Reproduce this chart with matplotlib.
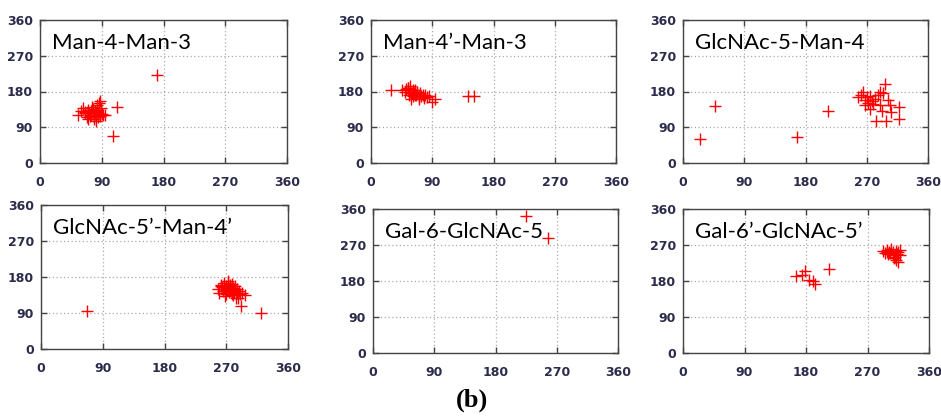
import matplotlib
matplotlib.use("Agg")
import matplotlib.pyplot as plt

titles = ["Man-4-Man-3", "Man-4\u2019-Man-3", "GlcNAc-5-Man-4",
          "GlcNAc-5\u2019-Man-4\u2019", "Gal-6-GlcNAc-5", "Gal-6\u2019-GlcNAc-5\u2019"]

# torsion angle pairs (phi, psi)
x1 = [170, 112, 107, 56, 60, 63, 66, 68, 70, 72, 73, 75, 76, 78, 79, 80, 81, 82, 83, 84,
      85, 86, 87, 88, 89, 90, 92, 95, 70, 77, 83, 88, 74, 66, 80]
y1 = [222, 141, 69, 121, 130, 138, 126, 117, 134, 125, 119, 130, 142, 117, 112, 128, 106, 121, 134, 125,
      115, 150, 120, 155, 138, 124, 121, 121, 110, 135, 145, 118, 122, 128, 132]

x2 = [30, 142, 152, 94, 89, 45, 50, 52, 55, 56, 57, 58, 60, 61, 62, 63, 65, 66, 68, 70,
      72, 74, 76, 78, 80, 82, 85, 54, 59, 64, 67, 71]
y2 = [183, 168, 168, 160, 153, 183, 178, 186, 190, 172, 180, 193, 175, 183, 168, 177, 185, 170, 178, 165,
      175, 168, 172, 163, 170, 165, 168, 188, 162, 172, 180, 160]

x3 = [25, 47, 167, 213, 257, 262, 265, 268, 270, 272, 275, 278, 279, 282, 284, 287, 289, 290, 292, 294,
      297, 299, 301, 304, 306, 318, 318, 268, 275]
y3 = [60, 143, 66, 130, 166, 172, 178, 158, 165, 150, 137, 155, 148, 160, 106, 170, 179, 145, 130, 175,
      200, 106, 158, 145, 129, 140, 112, 145, 168]

x4 = [67, 320, 292, 297, 287, 258, 260, 262, 264, 265, 266, 268, 269, 270, 271, 272, 273, 274, 275, 276,
      277, 278, 279, 280, 281, 282, 283, 285, 286, 288, 290, 293, 268, 272, 276, 280, 263, 284]
y4 = [94, 91, 108, 135, 128, 150, 140, 160, 155, 145, 165, 150, 138, 158, 148, 170, 155, 142, 160, 150,
      145, 162, 138, 152, 148, 143, 158, 140, 150, 145, 138, 140, 133, 165, 155, 135, 158, 128]

x5 = [225, 257]
y5 = [343, 288]

x6 = [166, 174, 179, 185, 190, 193, 213, 293, 296, 298, 300, 302, 305, 307, 308, 310, 311, 312, 313, 315,
      317, 318, 303, 309, 314, 299]
y6 = [193, 195, 204, 183, 180, 172, 210, 255, 250, 258, 248, 253, 260, 245, 252, 240, 255, 233, 248, 253,
      258, 245, 250, 238, 228, 252]

ticks = [0, 90, 180, 270, 360]

xs = [x1, x2, x3, x4, x5, x6]
ys = [y1, y2, y3, y4, y5, y6]

# axes boxes in pixels: left, top, right, bottom
W, H = 941, 416
boxes = [(40, 20, 287, 163), (371, 20, 616, 163), (683, 20, 928, 163),
         (41, 205, 288, 349), (373, 209, 618, 353), (683, 209, 929, 353)]

fig = plt.figure(figsize=(W / 100, H / 100), dpi=100)

for (l, t, r, b), x, y, title in zip(boxes, xs, ys, titles):
    ax = fig.add_axes([l / W, (H - b) / H, (r - l) / W, (b - t) / H])
    ax.plot(x, y, linestyle='none', marker='+', color='red', markersize=8, markeredgewidth=1.0)
    ax.set_xlim(0, 360)
    ax.set_ylim(0, 360)
    ax.set_xticks(ticks)
    ax.set_yticks(ticks)
    ax.grid(True, linestyle=(0, (1, 2)), color='#aaaaaa', linewidth=0.9)
    ax.tick_params(direction='in', length=4, width=1, top=True, right=True,
                   labelsize=9, labelcolor='#2b2b4b', color='#444444')
    ax.tick_params(axis='x', pad=9)
    ax.tick_params(axis='y', pad=5)
    for lab in ax.get_xticklabels() + ax.get_yticklabels():
        lab.set_fontweight('bold')
    for s in ax.spines.values():
        s.set_color('#444444')
        s.set_linewidth(1)
    ax.text(0.048, 0.91, title, transform=ax.transAxes, ha='left', va='top',
            fontsize=16, family='Lato', color='black')

fig.text(472 / W, 1 - 400 / H, "(b)", ha='center', va='center', fontsize=19,
         fontweight='bold', family='Liberation Serif')

fig.savefig("out.png", dpi=100)
